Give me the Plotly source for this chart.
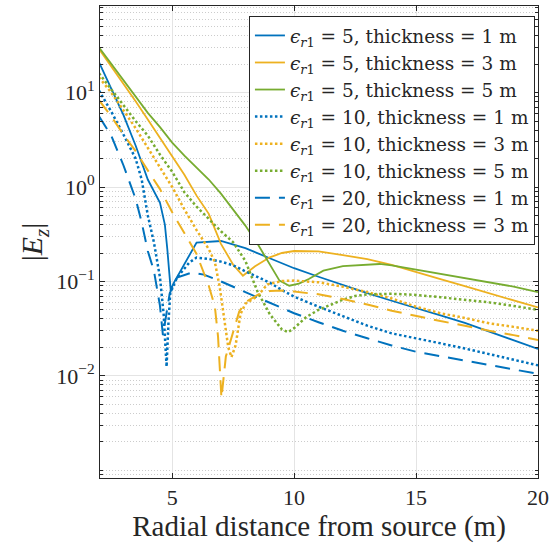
import plotly.graph_objects as go

# Vertical field magnitude |Ez| versus radial distance for layered media
BLUE = "#0072BD"
ORANGE = "#EDB120"
GREEN = "#77AC30"

# eps_r1 = 5
r_e5_t1 = [2.0, 2.5, 3.0, 3.5, 4.0, 4.5, 4.7, 4.8, 4.88, 4.94, 5.05, 5.5, 6.0, 7.0, 8.0, 9.0, 10.0,
           11.0, 12.0, 13.0, 14.0, 15.0, 16.0, 17.0, 18.0, 19.0, 20.0]
ez_e5_t1 = [21.0, 11.0, 5.8, 2.75, 1.2, 0.68, 0.40, 0.22, 0.13, 0.081, 0.095, 0.155, 0.258, 0.268,
            0.225, 0.176, 0.138, 0.112, 0.091, 0.075, 0.0624, 0.0525, 0.0437, 0.0363, 0.0295, 0.024, 0.0193]

r_e5_t3 = [2.0, 2.5, 3.0, 3.5, 4.0, 4.5, 5.0, 5.5, 6.0, 6.5, 7.0, 7.5, 7.9, 8.4, 9.0, 9.5, 10.0,
           11.0, 12.0, 13.0, 14.0, 15.0, 16.0, 17.0, 18.0, 19.0, 20.0]
ez_e5_t3 = [29.0, 19.0, 12.6, 8.1, 5.2, 3.3, 2.15, 1.35, 0.81, 0.52, 0.25, 0.15, 0.115, 0.145, 0.18,
            0.2, 0.21, 0.208, 0.19, 0.172, 0.15, 0.127, 0.106, 0.089, 0.075, 0.063, 0.053]

r_e5_t5 = [2.0, 2.5, 3.0, 3.5, 4.0, 4.5, 5.0, 5.5, 6.0, 6.5, 7.0, 7.5, 8.0, 8.5, 9.0, 9.4, 9.8,
           10.2, 10.6, 11.2, 12.0, 13.0, 13.5, 14.0, 15.0, 16.0, 17.0, 18.0, 19.0, 20.0]
ez_e5_t5 = [30.0, 20.0, 13.4, 9.0, 6.1, 4.3, 2.95, 2.15, 1.6, 1.2, 0.85, 0.58, 0.39, 0.25, 0.15,
            0.102, 0.09, 0.095, 0.106, 0.13, 0.145, 0.152, 0.153, 0.148, 0.133, 0.12, 0.109, 0.098,
            0.088, 0.077]

# eps_r1 = 10
r_e10_t1 = [2.0, 2.5, 3.0, 3.5, 3.75, 4.0, 4.25, 4.5, 4.65, 4.77, 4.85, 4.92, 5.2, 5.7, 6.0, 6.5,
            7.0, 7.5, 8.0, 8.5, 9.0, 9.5, 10.0, 11.0, 12.0, 13.0, 14.0, 15.0, 16.0, 17.0, 18.0,
            19.0, 20.0]
ez_e10_t1 = [10.5, 6.3, 3.6, 2.0, 1.2, 0.5, 0.26, 0.11, 0.045, 0.0125, 0.038, 0.075, 0.11, 0.158,
             0.179, 0.173, 0.162, 0.148, 0.128, 0.112, 0.097, 0.081, 0.069, 0.054, 0.0427, 0.034,
             0.0282, 0.0251, 0.0221, 0.0195, 0.017, 0.0148, 0.0129]

r_e10_t3 = [2.0, 2.5, 3.0, 3.5, 4.0, 4.5, 5.0, 5.5, 6.0, 6.5, 6.75, 6.95, 7.15, 7.3, 7.43, 7.6,
            7.8, 8.0, 8.5, 8.9, 9.5, 10.0, 11.0, 12.0, 13.0, 14.0, 15.0, 16.0, 17.0, 18.0, 19.0, 20.0]
ez_e10_t3 = [14.5, 10.0, 6.5, 4.2, 2.6, 1.6, 1.0, 0.58, 0.35, 0.22, 0.16, 0.087, 0.038, 0.02,
             0.0158, 0.021, 0.045, 0.058, 0.07, 0.093, 0.101, 0.102, 0.098, 0.088, 0.077, 0.066,
             0.054, 0.046, 0.041, 0.036, 0.033, 0.030]

r_e10_t5 = [2.0, 2.5, 3.0, 3.5, 4.0, 4.5, 5.0, 5.5, 6.0, 6.5, 7.0, 7.5, 8.0, 8.5, 9.0, 9.5, 9.75,
            10.0, 10.5, 11.0, 11.5, 12.0, 12.5, 13.0, 14.0, 15.0, 16.0, 17.0, 18.0, 19.0, 20.0]
ez_e10_t5 = [16.0, 10.8, 7.2, 5.0, 3.5, 2.2, 1.45, 0.88, 0.62, 0.46, 0.34, 0.26, 0.165, 0.078,
             0.045, 0.031, 0.029, 0.032, 0.042, 0.05, 0.057, 0.064, 0.07, 0.073, 0.074, 0.072,
             0.068, 0.064, 0.06, 0.055, 0.050]

# eps_r1 = 20
r_e20_t1 = [2.0, 2.5, 3.0, 3.25, 3.5, 3.75, 4.0, 4.25, 4.5, 4.62, 4.75, 4.9, 5.2, 5.8, 6.3, 7.0,
            8.0, 9.0, 10.0, 11.0, 12.0, 13.0, 14.0, 15.0, 16.0, 17.0, 18.0, 19.0, 20.0]
ez_e20_t1 = [5.6, 3.5, 1.7, 1.15, 0.75, 0.42, 0.21, 0.13, 0.055, 0.027, 0.045, 0.075, 0.11, 0.124,
             0.118, 0.1, 0.077, 0.06, 0.046, 0.037, 0.03, 0.025, 0.021, 0.018, 0.0162, 0.0145,
             0.013, 0.0117, 0.0105]

r_e20_t3 = [2.0, 2.5, 3.0, 3.5, 4.0, 4.5, 5.0, 5.5, 6.0, 6.5, 6.75, 6.88, 7.02, 7.2, 7.5, 7.75,
            8.0, 8.5, 9.0, 9.5, 10.0, 11.0, 12.0, 13.0, 14.0, 15.0, 16.0, 17.0, 18.0, 19.0, 20.0]
ez_e20_t3 = [8.3, 5.6, 3.6, 2.4, 1.5, 0.95, 0.54, 0.33, 0.195, 0.09, 0.054, 0.026, 0.0058, 0.016,
             0.03, 0.048, 0.06, 0.072, 0.079, 0.08, 0.078, 0.073, 0.065, 0.057, 0.049, 0.043,
             0.038, 0.034, 0.03, 0.027, 0.024]

permittivity = [5, 5, 5, 10, 10, 10, 20, 20]
thickness = [1, 3, 5, 1, 3, 5, 1, 3]
radii = [r_e5_t1, r_e5_t3, r_e5_t5, r_e10_t1, r_e10_t3, r_e10_t5, r_e20_t1, r_e20_t3]
fields = [ez_e5_t1, ez_e5_t3, ez_e5_t5, ez_e10_t1, ez_e10_t3, ez_e10_t5, ez_e20_t1, ez_e20_t3]

colors = {1: BLUE, 3: ORANGE, 5: GREEN}
dashes = {5: "solid", 10: "2.5px,2.5px", 20: "15px,9px"}
widths = {5: 1.8, 10: 2.5, 20: 2.0}

x_ticks = [5, 10, 15, 20]
y_ticks = [0.01, 0.1, 1, 10]
y_tick_text = ["10<sup>\u22122</sup>", "10<sup>\u22121</sup>", "10<sup>0</sup>", "10<sup>1</sup>"]
y_minor = [m * 10.0 ** e for e in range(-4, 2) for m in range(1, 10) if m * 10.0 ** e not in y_ticks]

fig = go.Figure()
for eps, t, r, ez in zip(permittivity, thickness, radii, fields):
    fig.add_trace(go.Scatter(
        x=r, y=ez, mode="lines",
        name=f"<i>\u03f5</i><sub><i>r</i>1</sub> = {eps}, thickness = {t} m",
        line=dict(color=colors[t], dash=dashes[eps], width=widths[eps]),
    ))

AX = "#262626"
SERIF = "'Liberation Serif', Tinos, 'Times New Roman', 'DejaVu Serif', serif"

fig.update_layout(
    width=554, height=551,
    margin=dict(l=100, r=14, t=5, b=73),
    paper_bgcolor="white", plot_bgcolor="white",
    font=dict(family=SERIF, color=AX, size=21),
    showlegend=True,
    legend=dict(
        x=0.993, xanchor="right", y=0.979, yanchor="top",
        bgcolor="white", bordercolor=AX, borderwidth=1,
        font=dict(family="'DejaVu Serif', serif", size=18.5, color=AX),
        tracegroupgap=0,
    ),
)

fig.update_xaxes(
    range=[2.04, 20],
    tickmode="array", tickvals=x_ticks,
    ticks="inside", ticklen=5, tickcolor=AX,
    showline=True, linecolor=AX, linewidth=1, mirror="allticks",
    showgrid=True, gridcolor="#e4e4e4", gridwidth=1, zeroline=False,
    tickfont=dict(family=SERIF, size=22, color=AX),
    title=dict(text="Radial distance from source (m)", font=dict(family=SERIF, size=29, color=AX), standoff=4),
)

fig.update_yaxes(
    type="log", range=[-3.082, 1.917],
    tickmode="array", tickvals=y_ticks, ticktext=y_tick_text,
    ticks="inside", ticklen=5, tickcolor=AX,
    showline=True, linecolor=AX, linewidth=1, mirror="allticks",
    showgrid=True, gridcolor="#e4e4e4", gridwidth=1, zeroline=False,
    tickfont=dict(family=SERIF, size=22, color=AX),
    minor=dict(tickmode="array", tickvals=y_minor, ticks="inside", ticklen=3, tickcolor=AX,
               showgrid=True, gridcolor="#cccccc", griddash="1px,2px", gridwidth=1),
    title=dict(text="|<i>E</i><sub><i>z</i></sub>|", font=dict(family=SERIF, size=30, color=AX), standoff=4),
)

fig.write_html("out.html")
